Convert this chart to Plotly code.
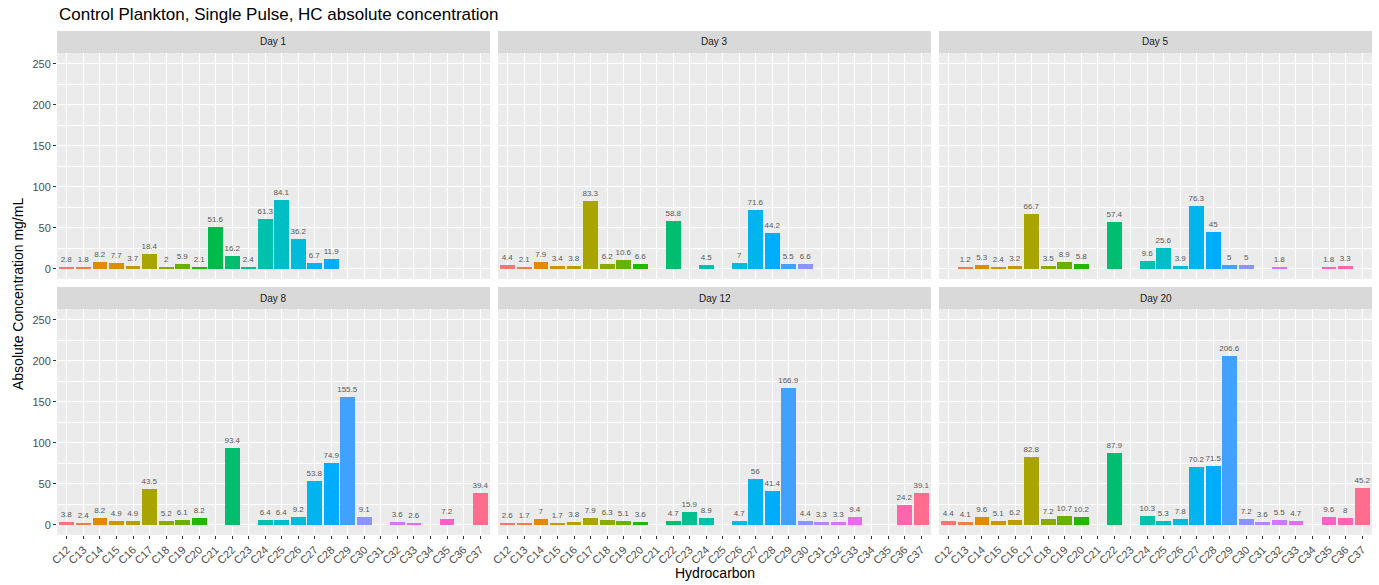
import math
import plotly.graph_objects as go

# Hydrocarbon chain lengths on the x axis
categories = [f"C{n}" for n in range(12, 38)]

# Absolute concentration (mg/mL) per sampling day; None = not detected
day1 = [2.8, 1.8, 8.2, 7.7, 3.7, 18.4, 2, 5.9, 2.1, 51.6, 16.2, 2.4, 61.3, 84.1, 36.2, 6.7, 11.9,
        None, None, None, None, None, None, None, None, None]
day3 = [4.4, 2.1, 7.9, 3.4, 3.8, 83.3, 6.2, 10.6, 6.6, None, 58.8, None, 4.5, None, 7, 71.6, 44.2,
        5.5, 6.6, None, None, None, None, None, None, None]
day5 = [None, 1.2, 5.3, 2.4, 3.2, 66.7, 3.5, 8.9, 5.8, None, 57.4, None, 9.6, 25.6, 3.9, 76.3, 45,
        5, 5, None, 1.8, None, None, 1.8, 3.3, None]
day8 = [3.8, 2.4, 8.2, 4.9, 4.9, 43.5, 5.2, 6.1, 8.2, None, 93.4, None, 6.4, 6.4, 9.2, 53.8, 74.9,
        155.5, 9.1, None, 3.6, 2.6, None, 7.2, None, 39.4]
day12 = [2.6, 1.7, 7, 1.7, 3.8, 7.9, 6.3, 5.1, 3.6, None, 4.7, 15.9, 8.9, None, 4.7, 56, 41.4,
         166.9, 4.4, 3.3, 3.3, 9.4, None, None, 24.2, 39.1]
day20 = [4.4, 4.1, 9.6, 5.1, 6.2, 82.8, 7.2, 10.7, 10.2, None, 87.9, None, 10.3, 5.3, 7.8, 70.2, 71.5,
         206.6, 7.2, 3.6, 5.5, 4.7, None, 9.6, 8, 45.2]

panel_titles = ["Day 1", "Day 3", "Day 5", "Day 8", "Day 12", "Day 20"]
panel_data = [day1, day3, day5, day8, day12, day20]
y_ticks = [0, 50, 100, 150, 200, 250]


def hcl_to_hex(h, c, l):
    """Polar LUV (HCL) to sRGB hex, as used by the ggplot2 hue palette."""
    Xn, Yn, Zn = 95.047, 100.0, 108.883
    hr = math.radians(h)
    u, v = c * math.cos(hr), c * math.sin(hr)
    Y = Yn * ((l + 16) / 116) ** 3 if l > 8 else Yn * l / 903.3
    un = 4 * Xn / (Xn + 15 * Yn + 3 * Zn)
    vn = 9 * Yn / (Xn + 15 * Yn + 3 * Zn)
    up = u / (13 * l) + un
    vp = v / (13 * l) + vn
    X = 9 * Y * up / (4 * vp)
    Z = Y * (12 - 3 * up - 20 * vp) / (4 * vp)
    X, Y, Z = X / 100, Y / 100, Z / 100
    r = 3.2404542 * X - 1.5371385 * Y - 0.4985314 * Z
    g = -0.9692660 * X + 1.8760108 * Y + 0.0415560 * Z
    b = 0.0556434 * X - 0.2040259 * Y + 1.0572252 * Z

    def gam(t):
        t = 12.92 * t if t <= 0.0031308 else 1.055 * t ** (1 / 2.4) - 0.055
        return max(0, min(255, round(t * 255)))

    return "#{:02X}{:02X}{:02X}".format(gam(r), gam(g), gam(b))


n = len(categories)
palette = [hcl_to_hex(15 + 360 * i / n, 100, 65) for i in range(n)]

W, H = 1379, 585
col_px = [(57, 490), (498, 931), (939, 1372)]
row_px = [(53, 279), (309, 535)]
strip_h = 22

fig = go.Figure()
shapes, annotations = [], []

for k, (title, vals) in enumerate(zip(panel_titles, panel_data)):
    r, c = divmod(k, 3)
    x0, x1 = col_px[c]
    yt, yb = row_px[r]
    idx = "" if k == 0 else str(k + 1)
    xs = [i for i, v in enumerate(vals) if v is not None]
    ys = [vals[i] for i in xs]
    fig.add_trace(go.Bar(
        x=xs, y=ys, width=0.9,
        marker=dict(color=[palette[i] for i in xs], line=dict(width=0)),
        text=[f"{v:g}" for v in ys], textposition="outside",
        textfont=dict(size=8, color="#595959", family="Liberation Sans"),
        constraintext="none", cliponaxis=False,
        xaxis="x" + idx, yaxis="y" + idx, showlegend=False,
        hovertemplate="%{customdata}: %{y}<extra>" + title + "</extra>",
        customdata=[categories[i] for i in xs],
    ))
    bottom = r == 1
    left = c == 0
    fig.layout["xaxis" + idx] = dict(
        domain=[x0 / W, x1 / W], anchor="y" + idx, range=[-0.6, n - 0.4],
        tickmode="array", tickvals=list(range(n)), ticktext=categories,
        showticklabels=bottom, ticks="outside" if bottom else "", ticklen=3,
        tickcolor="#333333", tickangle=-45, automargin=False,
        tickfont=dict(size=11, color="#4D4D4D", family="Liberation Sans"),
        showgrid=True, gridcolor="white", gridwidth=1.2, zeroline=False,
        showline=False, fixedrange=True,
    )
    fig.layout["yaxis" + idx] = dict(
        domain=[1 - yb / H, 1 - yt / H], anchor="x" + idx, range=[-12.3, 263.3],
        tickmode="array", tickvals=y_ticks, showticklabels=left, automargin=False,
        ticks="outside" if left else "", ticklen=3, tickcolor="#333333",
        tickfont=dict(size=11, color="#4D4D4D", family="Liberation Sans"),
        showgrid=True, gridcolor="white", gridwidth=1.2, zeroline=False,
        minor=dict(dtick=25, tick0=0, showgrid=True, gridcolor="white", gridwidth=0.6),
        showline=False, fixedrange=True,
    )
    # panel background and facet strip
    shapes.append(dict(type="rect", xref="paper", yref="paper", layer="below",
                       x0=x0 / W, x1=x1 / W, y0=1 - yb / H, y1=1 - yt / H,
                       fillcolor="#EBEBEB", line=dict(width=0)))
    shapes.append(dict(type="rect", xref="paper", yref="paper", layer="below",
                       x0=x0 / W, x1=x1 / W, y0=1 - yt / H, y1=1 - (yt - strip_h) / H,
                       fillcolor="#D9D9D9", line=dict(width=0)))
    annotations.append(dict(text=title, xref="paper", yref="paper",
                            x=(x0 + x1) / 2 / W, y=1 - (yt - strip_h / 2) / H,
                            showarrow=False, xanchor="center", yanchor="middle",
                            font=dict(size=10, color="#1A1A1A", family="Liberation Sans")))

annotations.append(dict(text="Control Plankton, Single Pulse, HC absolute concentration",
                        xref="paper", yref="paper", x=57 / W, y=1 - 14 / H,
                        showarrow=False, xanchor="left", yanchor="middle",
                        font=dict(size=17, color="#000000", family="Liberation Sans")))
annotations.append(dict(text="Hydrocarbon", xref="paper", yref="paper",
                        x=(57 + 1372) / 2 / W, y=1 - 573 / H, showarrow=False,
                        xanchor="center", yanchor="middle",
                        font=dict(size=14, color="#000000", family="Liberation Sans")))
annotations.append(dict(text="Absolute Concentration mg/mL", xref="paper", yref="paper",
                        x=18 / W, y=1 - 294 / H, showarrow=False, textangle=-90,
                        xanchor="center", yanchor="middle",
                        font=dict(size=14, color="#000000", family="Liberation Sans")))

fig.update_layout(
    width=W, height=H, margin=dict(l=0, r=0, t=0, b=0, autoexpand=False),
    paper_bgcolor="white", plot_bgcolor="rgba(0,0,0,0)",
    shapes=shapes, annotations=annotations, bargap=0, showlegend=False,
    font=dict(family="Liberation Sans"),
)

fig.write_html("out.html")
